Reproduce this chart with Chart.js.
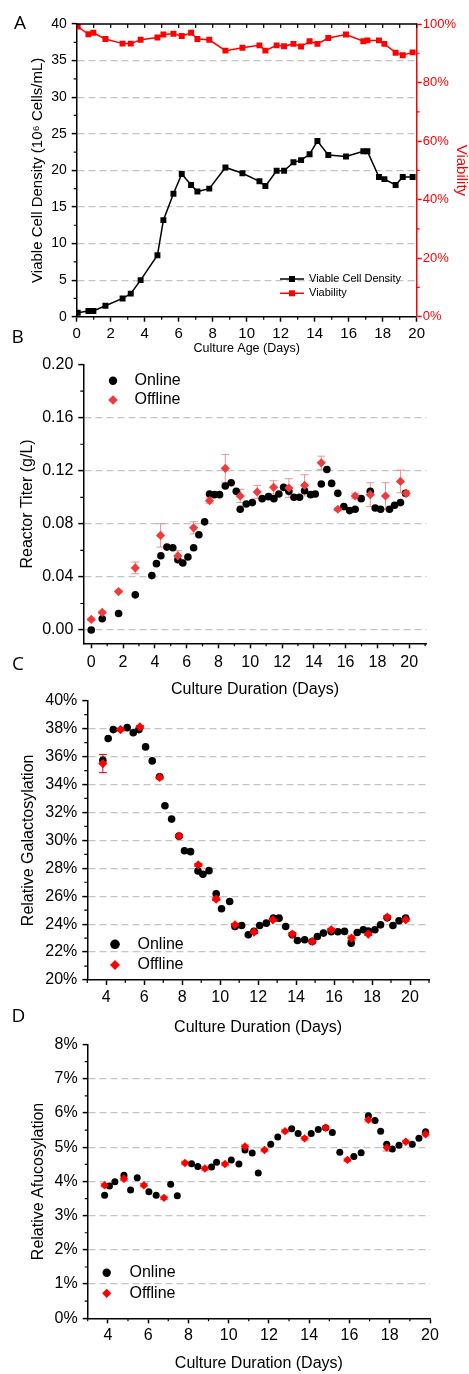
<!DOCTYPE html>
<html><head><meta charset="utf-8">
<script src="https://cdn.jsdelivr.net/npm/chart.js@4/dist/chart.umd.min.js"></script>
<style>
html,body{margin:0;padding:0;background:#fff;}
body{width:469px;height:1374px;position:relative;overflow:hidden;}
canvas{position:absolute;left:0;}
.pl{position:absolute;font-family:"Open Sans",sans-serif;font-size:19px;line-height:19px;color:#000;}
</style></head><body>
<canvas id="cA" width="469" height="360" style="top:0px"></canvas>
<canvas id="cB" width="469" height="350" style="top:350px"></canvas>
<canvas id="cC" width="469" height="360" style="top:680px"></canvas>
<canvas id="cD" width="469" height="344" style="top:1030px"></canvas>
<div class="pl" style="left:14px;top:12.7px">A</div>
<div class="pl" style="left:11.5px;top:326.7px">B</div>
<div class="pl" style="left:12px;top:654px">C</div>
<div class="pl" style="left:11.5px;top:1006px">D</div>
<script>
// ---------- DATA ----------
// Panel A
const ageDays = [0.06,0.69,0.98,1.69,2.7,3.18,3.76,4.75,5.1,5.69,6.18,6.73,7.1,7.8,8.75,9.75,10.75,11.1,11.76,12.2,12.75,13.2,13.7,14.16,14.8,15.84,16.86,17.1,17.78,18.1,18.76,19.18,19.76];
const vcd = [0.55,0.78,0.78,1.5,2.5,3.15,5.0,8.4,13.2,16.8,19.5,18.0,17.1,17.5,20.4,19.6,18.5,17.85,19.95,19.95,21.1,21.4,22.2,24.0,22.1,21.9,22.6,22.6,19.1,18.8,18.0,19.1,19.1];
const viability = [99.1,96.5,97.0,94.9,93.3,93.3,94.6,95.4,96.4,96.7,95.9,97.0,94.9,94.6,90.9,91.9,92.7,90.9,92.7,92.4,93.2,92.3,94.1,93.2,95.2,96.4,94.1,94.4,94.4,93.2,90.2,89.3,90.3];
const ageTicks = [0,2,4,6,8,10,12,14,16,18,20];
const vcdTicks = [0,5,10,15,20,25,30,35,40];
const viaTicks = [0,20,40,60,80,100];
// Panel B
const titerOnDays = [0,0.69,1.72,2.77,3.81,4.1,4.38,4.76,5.13,5.45,5.76,6.08,6.44,6.77,7.13,7.44,7.76,8.07,8.43,8.8,9.12,9.37,9.75,10.13,10.75,11.15,11.49,11.8,12.1,12.43,12.75,13.1,13.42,13.8,14.09,14.47,14.82,15.12,15.51,15.89,16.25,16.6,16.98,17.55,17.86,18.2,18.76,19.08,19.45,19.77];
const titerOn = [0,0.0085,0.0125,0.0265,0.041,0.05,0.056,0.0625,0.062,0.053,0.0505,0.055,0.062,0.0718,0.0815,0.1025,0.102,0.102,0.1085,0.111,0.1045,0.091,0.095,0.096,0.099,0.1005,0.099,0.1025,0.1075,0.1045,0.1,0.1,0.105,0.102,0.1025,0.11,0.121,0.1105,0.103,0.093,0.09,0.091,0.099,0.1045,0.092,0.091,0.091,0.094,0.096,0.103];
const titerOffDays = [0,0.69,1.72,2.77,4.36,5.45,6.44,7.44,8.43,9.37,10.44,11.47,12.43,13.42,14.47,15.51,16.6,17.55,18.51,19.45,19.81];
const titerOff = [0.008,0.0133,0.029,0.0468,0.0713,0.0558,0.077,0.0975,0.1218,0.101,0.104,0.1075,0.107,0.109,0.126,0.091,0.101,0.102,0.101,0.112,0.103];
const titerOffErr = [0.001,0.001,0.001,0.0044,0.0088,0.004,0.0046,0.002,0.0105,0.005,0.005,0.005,0.007,0.008,0.005,0.001,0.002,0.009,0.01,0.0085,0.002];
const titerXTicks = [0,2,4,6,8,10,12,14,16,18,20];
const titerYTicks = [0,0.04,0.08,0.12,0.16,0.20];
// Panel C
const galOnDays = [3.82,4.1,4.37,5.1,5.42,5.72,6.07,6.42,6.81,7.09,7.44,7.83,8.12,8.44,8.83,9.09,9.41,9.79,10.07,10.5,10.78,11.13,11.48,11.78,12.08,12.43,12.8,13.1,13.45,13.8,14.07,14.45,14.85,15.12,15.44,15.85,16.2,16.55,16.9,17.22,17.54,17.8,18.15,18.45,18.8,19.1,19.42,19.77];
const galOn = [35.74,37.29,37.93,38.07,37.71,37.93,36.69,35.69,34.55,32.48,31.52,30.3,29.26,29.19,27.81,27.57,27.83,26.17,25.1,25.62,23.83,23.9,23.24,23.48,23.9,24.07,24.43,24.43,23.83,23.24,22.83,22.88,22.76,23.12,23.36,23.45,23.45,23.48,22.64,23.4,23.6,23.5,23.6,23.95,24.45,23.9,24.24,24.43];
const galOffDays = [3.82,4.75,5.77,6.81,7.83,8.85,9.79,10.78,11.78,12.78,13.8,14.85,15.85,16.92,17.8,18.8,19.77];
const galOff = [35.5,37.93,38.12,34.5,30.31,28.24,25.79,23.95,23.43,24.31,23.29,22.76,23.6,23.0,23.29,24.5,24.31];
const galOffErr = [0.65,0.1,0.1,0.1,0.1,0.1,0.1,0.1,0.1,0.1,0.1,0.1,0.1,0.15,0.1,0.1,0.1];
const galXTicks = [4,6,8,10,12,14,16,18,20];
const galYTicks = [20,22,24,26,28,30,32,34,36,38,40];
// Panel D
const afuOnDays = [3.84,4.08,4.35,4.8,5.13,5.46,6.04,6.4,7.12,7.45,8.16,8.47,9.15,9.4,10.13,10.51,10.81,11.17,11.47,12.09,12.44,13.13,13.45,14.1,14.45,14.82,15.15,15.52,16.22,16.58,16.94,17.27,17.55,17.85,18.13,18.46,19.12,19.45,19.78];
const afuOn = [3.6,3.87,3.99,4.18,3.75,4.11,3.7,3.6,3.92,3.58,4.52,4.44,4.42,4.56,4.63,4.51,4.92,4.83,4.25,5.09,5.3,5.54,5.4,5.4,5.52,5.57,5.43,4.85,4.73,4.84,5.92,5.78,5.47,5.09,4.95,5.06,5.09,5.26,5.45];
const afuOffDays = [3.84,4.8,5.79,6.79,7.83,8.82,9.82,10.81,11.78,12.8,13.77,14.82,15.9,16.94,17.85,18.8,19.78];
const afuOff = [3.89,4.08,3.89,3.52,4.54,4.38,4.51,5.02,4.92,5.47,5.26,5.57,4.63,5.8,4.99,5.16,5.38];
const afuOffErr = [0.05,0.05,0.05,0.05,0.05,0.05,0.05,0.05,0.05,0.05,0.05,0.05,0.05,0.06,0.1,0.05,0.05];
const afuXTicks = [4,6,8,10,12,14,16,18,20];
const afuYTicks = [0,1,2,3,4,5,6,7,8];

// ---------- HELPERS ----------
const F = "'Liberation Sans', Arial, sans-serif";
const GRID = '#c4c4c4';
const pts = (xs, ys) => xs.map((x, i) => ({x: x, y: ys[i]}));
const tickArr = arr => s => { s.ticks = arr.map(v => ({value: v})); };
const fixW = w => s => { s.width = w; };
const fixH = h => s => { s.height = h; };
const gridColor = c => { const s = c.scale, v = c.tick.value; return (v > s.min + 1e-9 && v < s.max - 1e-9) ? GRID : 'rgba(0,0,0,0)'; };

const decor = {
  id: 'decor',
  beforeDatasetsDraw(chart, a, o) {
    if (!o.errorBars) return;
    const ctx = chart.ctx;
    o.errorBars.forEach(eb => {
      const meta = chart.getDatasetMeta(eb.dataset);
      const ds = chart.data.datasets[eb.dataset];
      const ys = chart.scales[meta.yAxisID];
      ctx.save();
      ctx.strokeStyle = eb.color; ctx.lineWidth = eb.width || 1;
      ds.data.forEach((p, i) => {
        const e = eb.err[i]; if (!e) return;
        const px = meta.data[i].x;
        const yt = ys.getPixelForValue(p.y + e), yb = ys.getPixelForValue(p.y - e);
        ctx.beginPath();
        ctx.moveTo(px, yt); ctx.lineTo(px, yb);
        ctx.moveTo(px - eb.cap, yt); ctx.lineTo(px + eb.cap, yt);
        ctx.moveTo(px - eb.cap, yb); ctx.lineTo(px + eb.cap, yb);
        ctx.stroke();
      });
      ctx.restore();
    });
  },
  afterDraw(chart, a, o) {
    const ctx = chart.ctx, ca = chart.chartArea;
    ctx.save();
    if (o.topBorder) {
      ctx.strokeStyle = '#000'; ctx.lineWidth = 1.5;
      ctx.beginPath(); ctx.moveTo(ca.left, ca.top); ctx.lineTo(ca.right, ca.top); ctx.stroke();
    }
    (o.minor || []).forEach(m => {
      const s = chart.scales[m.scale];
      ctx.strokeStyle = m.color || '#000'; ctx.lineWidth = m.width || 1.2;
      ctx.beginPath();
      for (let k = Math.ceil((s.min - 1e-9) / m.step); k * m.step <= s.max + 1e-9; k++) {
        const v = k * m.step;
        if (m.major && Math.abs(v / m.major - Math.round(v / m.major)) < 1e-6) continue;
        const p = s.getPixelForValue(v);
        if (m.edge === 'left') { ctx.moveTo(ca.left, p); ctx.lineTo(ca.left - m.len, p); }
        else if (m.edge === 'right') { ctx.moveTo(ca.right, p); ctx.lineTo(ca.right + m.len, p); }
        else if (m.edge === 'bottom') { ctx.moveTo(p, ca.bottom); ctx.lineTo(p, ca.bottom + m.len); }
        else if (m.edge === 'top') { ctx.moveTo(p, ca.top); ctx.lineTo(p, ca.top + m.len); }
      }
      ctx.stroke();
    });
    (o.legend || []).forEach(it => {
      const ds = chart.data.datasets[it.dataset];
      ctx.fillStyle = it.color; ctx.strokeStyle = it.color;
      if (it.line) {
        ctx.lineWidth = 1.5; ctx.beginPath(); ctx.moveTo(it.line[0], it.y); ctx.lineTo(it.line[1], it.y); ctx.stroke();
      }
      ctx.beginPath();
      if (it.shape === 'circle') { ctx.arc(it.x, it.y, it.r, 0, Math.PI * 2); }
      else if (it.shape === 'diamond') { ctx.moveTo(it.x - it.r, it.y); ctx.lineTo(it.x, it.y - it.r); ctx.lineTo(it.x + it.r, it.y); ctx.lineTo(it.x, it.y + it.r); ctx.closePath(); }
      else if (it.shape === 'square') { ctx.rect(it.x - it.r, it.y - it.r, it.r * 2, it.r * 2); }
      ctx.fill();
      ctx.fillStyle = '#000'; ctx.font = it.font; ctx.textBaseline = 'middle'; ctx.textAlign = 'left';
      ctx.fillText(ds.label, it.tx, it.y);
    });
    ctx.restore();
  }
};

const baseOpts = () => ({responsive: false, animation: false, devicePixelRatio: 1, events: []});
function axisX(min, max, ticksArr, h, fs, pad, title, tfs, tpad) {
  return {type: 'linear', min: min, max: max, afterBuildTicks: tickArr(ticksArr), afterFit: fixH(h),
    ticks: {font: {family: F, size: fs}, color: '#000', padding: pad, autoSkip: false, maxRotation: 0},
    grid: {drawOnChartArea: false, tickLength: 5, tickColor: '#000', tickWidth: 1.5},
    border: {color: '#000', width: 1.5},
    title: {display: true, text: title, color: '#000', font: {family: F, size: tfs}, padding: {top: 0, bottom: tpad}}};
}
function axisY(min, max, ticksArr, w, fs, pad, cb, title, tfs, tpad) {
  return {type: 'linear', position: 'left', min: min, max: max, afterBuildTicks: tickArr(ticksArr), afterFit: fixW(w),
    ticks: {font: {family: F, size: fs}, color: '#000', padding: pad, callback: cb},
    grid: {color: gridColor, lineWidth: 1.2, tickLength: 5, tickColor: '#000', tickWidth: 1.5, tickBorderDash: []},
    border: {color: '#000', width: 1.5, dash: [7, 4]},
    title: {display: true, text: title, color: '#000', font: {family: F, size: tfs}, padding: {top: tpad, bottom: 0}}};
}

// ---------- PANEL A ----------
new Chart(document.getElementById('cA'), {
  type: 'line',
  data: {datasets: [
    {label: 'Viable Cell Density', data: pts(ageDays, vcd), yAxisID: 'y', borderColor: '#000', backgroundColor: '#000', borderWidth: 1.5, pointStyle: 'rect', pointRadius: 4.2, pointBorderWidth: 0, tension: 0},
    {label: 'Viability', data: pts(ageDays, viability), yAxisID: 'y2', borderColor: '#ff0000', backgroundColor: '#ff0000', borderWidth: 1.5, pointStyle: 'rect', pointRadius: 4.2, pointBorderWidth: 0, tension: 0}
  ]},
  options: Object.assign(baseOpts(), {
    layout: {padding: {top: 24, left: 0, right: 0, bottom: 0}},
    plugins: {legend: {display: false}, tooltip: {enabled: false},
      decor: {topBorder: true,
        minor: [{scale: 'y', step: 2.5, major: 5, len: 3, edge: 'left'}, {scale: 'y2', step: 10, major: 20, len: 3, edge: 'right', color: '#ff0000'},
                {scale: 'x', step: 1, major: 2, len: 3, edge: 'bottom'}, {scale: 'x', step: 1, len: 4, edge: 'top'}],
        legend: [{dataset: 0, shape: 'square', color: '#000', x: 292, y: 279, r: 3, line: [280, 304], tx: 309, font: "11px " + F},
                 {dataset: 1, shape: 'square', color: '#ff0000', x: 292, y: 293.3, r: 3, line: [280, 304], tx: 309, font: "11px " + F}]}},
    scales: {
      x: axisX(0, 20, ageTicks, 43.3, 15, 3, 'Culture Age (Days)', 12.5, 3.5),
      y: axisY(0, 40, vcdTicks, 76.7, 14, 5, v => v, 'Viable Cell Density (10\u2076 Cells/mL)', 15, 29),
      y2: {type: 'linear', position: 'right', min: 0, max: 100, afterBuildTicks: tickArr(viaTicks), afterFit: fixW(52.3),
        ticks: {font: {family: F, size: 13}, color: '#ff0000', padding: 1, callback: v => v + '%'},
        grid: {drawOnChartArea: false, tickLength: 5, tickColor: '#ff0000', tickWidth: 1.5},
        border: {color: '#ff0000', width: 1.5},
        title: {display: true, text: 'Viability', color: '#ff0000', font: {family: F, size: 15, lineHeight: 1.07}, padding: {top: 0, bottom: 0}}}
    }
  }),
  plugins: [decor]
});

// ---------- PANEL B ----------
new Chart(document.getElementById('cB'), {
  type: 'scatter',
  data: {datasets: [
    {label: 'Online', data: pts(titerOnDays, titerOn), backgroundColor: '#000', borderWidth: 0, pointStyle: 'circle', pointRadius: 3.8, order: 2},
    {label: 'Offline', data: pts(titerOffDays, titerOff), backgroundColor: '#ee3b3b', borderWidth: 0, pointStyle: 'rectRot', pointRadius: 4.6, order: 1}
  ]},
  options: Object.assign(baseOpts(), {
    layout: {padding: {top: 13.5, left: 0, right: 42.3, bottom: 0}},
    plugins: {legend: {display: false}, tooltip: {enabled: false},
      decor: {
        errorBars: [{dataset: 1, err: titerOffErr, color: 'rgba(240,110,110,0.75)', cap: 4, width: 1}],
        minor: [{scale: 'y', step: 0.02, major: 0.04, len: 3, edge: 'left'}, {scale: 'x', step: 1, major: 2, len: 3, edge: 'bottom'}],
        legend: [{dataset: 0, shape: 'circle', color: '#000', x: 113, y: 30.7, r: 4.2, tx: 134.5, font: "16px " + F},
                 {dataset: 1, shape: 'diamond', color: '#ee3b3b', x: 113, y: 50, r: 4.8, tx: 134.5, font: "16px " + F}]}},
    scales: {
      x: axisX(-0.5, 21.1, titerXTicks, 56.7, 16, 4.7, 'Culture Duration (Days)', 16, 0.4),
      y: axisY(-0.01, 0.2, titerYTicks, 83.3, 16, 5, v => v.toFixed(2), 'Reactor Titer (g/L)', 16, 18.4)
    }
  }),
  plugins: [decor]
});

// ---------- PANEL C ----------
new Chart(document.getElementById('cC'), {
  type: 'scatter',
  data: {datasets: [
    {label: 'Online', data: pts(galOnDays, galOn), backgroundColor: '#000', borderWidth: 0, pointStyle: 'circle', pointRadius: 3.8, order: 2},
    {label: 'Offline', data: pts(galOffDays, galOff), backgroundColor: '#ff0000', borderWidth: 0, pointStyle: 'rectRot', pointRadius: 4.6, order: 1}
  ]},
  options: Object.assign(baseOpts(), {
    layout: {padding: {top: 20.7, left: 0, right: 40, bottom: 0}},
    plugins: {legend: {display: false}, tooltip: {enabled: false},
      decor: {
        errorBars: [{dataset: 1, err: galOffErr, color: '#ff0000', cap: 4, width: 1}],
        minor: [{scale: 'y', step: 1, major: 2, len: 3, edge: 'left'}, {scale: 'x', step: 1, major: 2, len: 3, edge: 'bottom'}],
        legend: [{dataset: 0, shape: 'circle', color: '#000', x: 115, y: 264.3, r: 4.8, tx: 137.5, font: "16px " + F},
                 {dataset: 1, shape: 'diamond', color: '#ff0000', x: 115, y: 285, r: 5, tx: 137.5, font: "16px " + F}]}},
    scales: {
      x: axisX(3, 21, galXTicks, 60, 16, 3, 'Culture Duration (Days)', 16, 2.4),
      y: axisY(20, 40, galYTicks, 87.3, 16, 5, v => v + '%', 'Relative Galactosylation', 16, 19.4)
    }
  }),
  plugins: [decor]
});

// ---------- PANEL D ----------
new Chart(document.getElementById('cD'), {
  type: 'scatter',
  data: {datasets: [
    {label: 'Online', data: pts(afuOnDays, afuOn), backgroundColor: '#000', borderWidth: 0, pointStyle: 'circle', pointRadius: 3.5, order: 2},
    {label: 'Offline', data: pts(afuOffDays, afuOff), backgroundColor: '#ff0000', borderWidth: 0, pointStyle: 'rectRot', pointRadius: 4.2, order: 1}
  ]},
  options: Object.assign(baseOpts(), {
    layout: {padding: {top: 9, left: 0, right: 39, bottom: 0}},
    plugins: {legend: {display: false}, tooltip: {enabled: false},
      decor: {
        errorBars: [{dataset: 1, err: afuOffErr, color: '#ff6060', cap: 4, width: 1}],
        minor: [{scale: 'y', step: 0.5, major: 1, len: 3, edge: 'left'}, {scale: 'x', step: 1, major: 2, len: 3, edge: 'bottom'}],
        legend: [{dataset: 0, shape: 'circle', color: '#000', x: 106.7, y: 242.7, r: 4.2, tx: 129.5, font: "16px " + F},
                 {dataset: 1, shape: 'diamond', color: '#ff0000', x: 106.7, y: 263.3, r: 4.6, tx: 129.5, font: "16px " + F}]}},
    scales: {
      x: axisX(3, 20, afuXTicks, 55.7, 16, 3, 'Culture Duration (Days)', 16, 0.4),
      y: axisY(0, 8, afuYTicks, 87.7, 16, 5, v => v + '%', 'Relative Afucosylation', 16, 29.4)
    }
  }),
  plugins: [decor]
});
</script>
</body></html>
